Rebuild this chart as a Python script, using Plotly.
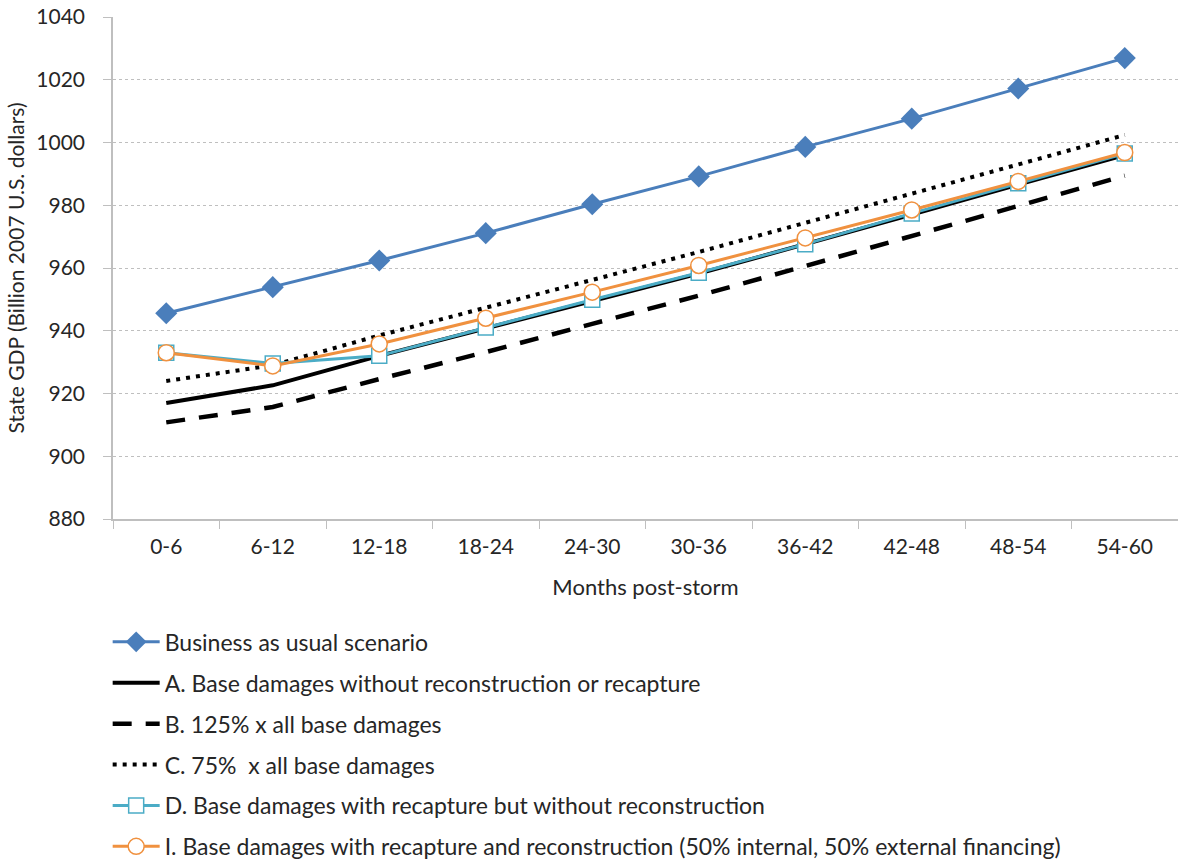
import plotly.graph_objects as go

categories = ["0-6", "6-12", "12-18", "18-24", "24-30", "30-36", "36-42", "42-48", "48-54", "54-60"]

bau = [945.6, 953.9, 962.4, 971.1, 980.3, 989.2, 998.6, 1007.6, 1017.2, 1026.9]
a_vals = [917.0, 922.6, 932.0, 940.6, 949.5, 958.2, 967.5, 977.0, 986.6, 996.0]
b_vals = [910.8, 915.7, 924.6, 933.2, 942.2, 951.2, 960.6, 970.1, 979.6, 989.4]
c_vals = [924.0, 929.0, 938.5, 947.2, 956.2, 965.1, 974.3, 983.6, 993.0, 1002.4]
d_vals = [933.0, 929.6, 932.0, 941.0, 949.9, 958.5, 967.6, 977.4, 987.0, 996.5]
i_vals = [933.0, 928.8, 935.8, 944.0, 952.3, 960.8, 969.6, 978.5, 987.6, 996.8]

names = [
    "Business as usual scenario",
    "A. Base damages without reconstruction or recapture",
    "B. 125% x all base damages",
    "C. 75%  x all base damages",
    "D. Base damages with recapture but without reconstruction",
    "I. Base damages with recapture and reconstruction (50% internal, 50% external financing)",
]

FONT = "Lato"
TXT = "#262626"
fig = go.Figure()

fig.add_trace(go.Scatter(x=categories, y=bau, name=names[0], legendgroup="g0",
    mode="lines+markers", line=dict(color="#4a7ebb", width=3),
    marker=dict(symbol="diamond", size=17, color="#4a7ebb")))
fig.add_trace(go.Scatter(x=categories, y=a_vals, name=names[1], legendgroup="g1",
    mode="lines", line=dict(color="#000000", width=4)))
fig.add_trace(go.Scatter(x=categories, y=b_vals, name=names[2], legendgroup="g2",
    mode="lines", line=dict(color="#000000", width=4.5, dash="19px,14px")))
fig.add_trace(go.Scatter(x=categories, y=c_vals, name=names[3], legendgroup="g3",
    mode="lines", line=dict(color="#000000", width=4, dash="4px,6px")))
fig.add_trace(go.Scatter(x=categories, y=d_vals, name=names[4], legendgroup="g4",
    mode="lines+markers", line=dict(color="#4bacc6", width=3),
    marker=dict(symbol="square", size=15, color="#ffffff", line=dict(color="#4bacc6", width=1.5))))
fig.add_trace(go.Scatter(x=categories, y=i_vals, name=names[5], legendgroup="g5",
    mode="lines+markers", line=dict(color="#f0913f", width=3),
    marker=dict(symbol="circle", size=16, color="#ffffff", line=dict(color="#f0913f", width=1.5))))

fig.update_layout(
    width=1178, height=867,
    margin=dict(l=113, r=0, t=17, b=348, autoexpand=False),
    paper_bgcolor="#ffffff", plot_bgcolor="#ffffff",
    font=dict(family=FONT, size=21, color=TXT),
    showlegend=True,
    legend=dict(x=-0.005, xanchor="left", y=-0.202, yanchor="top",
                font=dict(family=FONT, size=23, color=TXT),
                tracegroupgap=8, bgcolor="rgba(0,0,0,0)", itemwidth=47),
    xaxis=dict(
        type="category", range=[-0.5, 9.5],
        showline=True, linecolor="#bfbfbf", linewidth=1.5,
        ticks="outside", tickson="boundaries", ticklen=8, tickcolor="#bfbfbf",
        showgrid=False, zeroline=False,
        tickfont=dict(family=FONT, size=21, color=TXT),
        ticklabelstandoff=8,
        title=dict(text="Months post-storm", font=dict(family=FONT, size=22, color=TXT), standoff=23),
    ),
    yaxis=dict(
        range=[880, 1040], dtick=20, tick0=880,
        showline=True, linecolor="#bfbfbf", linewidth=1.5,
        ticks="outside", ticklen=8, tickcolor="#bfbfbf",
        showgrid=True, gridcolor="#bfbfbf", gridwidth=1, griddash="3px,3px",
        zeroline=False,
        tickfont=dict(family=FONT, size=21, color=TXT),
        ticklabelstandoff=14,
        title=dict(text="State GDP (Billion 2007 U.S. dollars)", font=dict(family=FONT, size=21, color=TXT), standoff=6),
    ),
)

fig.write_html("out.html", config={"displayModeBar": False},
               post_script="document.body.style.margin='0';")
